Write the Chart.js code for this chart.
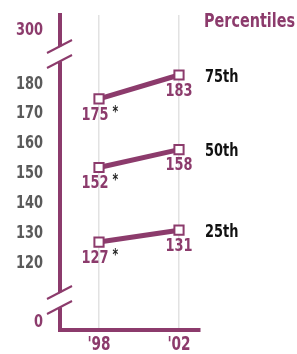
<!DOCTYPE html>
<html>
<head>
<meta charset="utf-8">
<script src="https://cdn.jsdelivr.net/npm/chart.js@4"></script>
<style>
  body { margin: 0; background: #fff; }
  #wrap { width: 297px; height: 354px; position: relative; }
</style>
</head>
<body>
<div id="wrap"><canvas id="chart"></canvas></div>
<script>
// Data
const years = ["'98", "'02"];
const seriesNames = ['75th', '50th', '25th'];
const p75 = [175, 183];
const p50 = [152, 158];
const p25 = [127, 131];
const starred = [true, false];   // '98 values carry an asterisk

// Y ticks: broken axis, 0 and 300 are shown at the ends
const yTicks = [100, 120, 130, 140, 150, 160, 170, 180, 198];
const yTickText = { 100: '0', 198: '300' };

const PURPLE = '#8c3b6c';
const GRAY = '#5a5a5a';
const FONT = '"DejaVu Sans", sans-serif';
const SQUEEZE = 0.72;   // no condensed face installed, so squeeze text sideways

function makeSet(name, values) {
    return {
        label: name,
        data: values.map((v, i) => ({ x: i, y: v })),
        borderColor: PURPLE,
        borderWidth: 5,
        pointStyle: 'rect',
        pointRadius: 6.5,
        pointBorderWidth: 2,
        pointBackgroundColor: '#fff',
        pointBorderColor: PURPLE
    };
}

// draw condensed text; returns its drawn width
function narrowText(ctx, s, x, y, size, color, align) {
    ctx.save();
    ctx.font = 'bold ' + size + 'px ' + FONT;
    ctx.fillStyle = color;
    ctx.textBaseline = 'middle';
    ctx.textAlign = align || 'left';
    ctx.translate(x, y);
    ctx.scale(SQUEEZE, 1);
    ctx.fillText(s, 0, 0);
    const w = ctx.measureText(s).width * SQUEEZE;
    ctx.restore();
    return w;
}

// Labels, breaks, tick text and title drawn on top of the chart
const decorations = {
    id: 'decorations',
    afterDatasetsDraw(chart) {
        const ctx = chart.ctx;
        const area = chart.chartArea;
        const xs = chart.scales.x, ys = chart.scales.y;

        // axis breaks near top and bottom of the y axis
        const ax = area.left;
        ctx.save();
        [47, 293].forEach(yc => {
            ctx.fillStyle = '#fff';
            ctx.beginPath();
            ctx.moveTo(ax - 8, yc + 4);
            ctx.lineTo(ax + 8, yc - 4);
            ctx.lineTo(ax + 8, yc + 11);
            ctx.lineTo(ax - 8, yc + 19);
            ctx.closePath();
            ctx.fill();
            ctx.strokeStyle = PURPLE;
            ctx.lineWidth = 2;
            [0, 15].forEach(d => {
                ctx.beginPath();
                ctx.moveTo(ax - 13, yc + 6 + d);
                ctx.lineTo(ax + 12, yc - 7 + d);
                ctx.stroke();
            });
        });
        ctx.restore();

        // tick labels at the scales' own positions
        yTicks.forEach(v => {
            const t = yTickText[v];
            narrowText(ctx, t || String(v), 43, ys.getPixelForValue(v), 18, t ? PURPLE : GRAY, 'right');
        });
        years.forEach((yr, i) => {
            narrowText(ctx, yr, xs.getPixelForValue(i), 345, 19, PURPLE, 'center');
        });

        // value labels below each point, series names at right
        chart.data.datasets.forEach((ds, di) => {
            const meta = chart.getDatasetMeta(di);
            meta.data.forEach((pt, i) => {
                const s = String(ds.data[i].y);
                const dx = starred[i] ? -4 : 0;
                const w = narrowText(ctx, s, pt.x + dx, pt.y + 16, 18, PURPLE, 'center');
                if (starred[i]) {
                    narrowText(ctx, '*', pt.x + dx + w / 2 + 4, pt.y + 14, 15, '#222', 'left');
                }
            });
            const last = meta.data[meta.data.length - 1];
            narrowText(ctx, ds.label, 205, last.y + 2, 18, '#111', 'left');
        });

        narrowText(ctx, 'Percentiles', 204, 22, 20, PURPLE, 'left');
    }
};

new Chart(document.getElementById('chart'), {
    type: 'line',
    data: {
        datasets: [makeSet(seriesNames[0], p75), makeSet(seriesNames[1], p50), makeSet(seriesNames[2], p25)]
    },
    options: {
        responsive: true,
        maintainAspectRatio: false,
        animation: false,
        layout: { padding: { top: 15, right: 97, left: 0, bottom: 0 } },
        plugins: { legend: { display: false }, tooltip: { enabled: false } },
        scales: {
            x: {
                type: 'linear',
                min: -0.4875,
                max: 1.2625,
                afterBuildTicks: s => { s.ticks = years.map((_, i) => ({ value: i })); },
                afterFit: s => { s.height = 24; },
                grid: { display: true, color: '#e2e2e2', lineWidth: 1.5, drawTicks: false },
                border: { display: true, color: PURPLE, width: 4 },
                ticks: { display: false }
            },
            y: {
                min: 97.54,
                max: 203.1,
                afterBuildTicks: s => { s.ticks = yTicks.map(v => ({ value: v })); },
                afterFit: s => { s.width = 60; },
                grid: { display: false, drawTicks: false },
                border: { display: true, color: PURPLE, width: 4 },
                ticks: { display: false }
            }
        }
    },
    plugins: [decorations]
});
</script>
</body>
</html>
